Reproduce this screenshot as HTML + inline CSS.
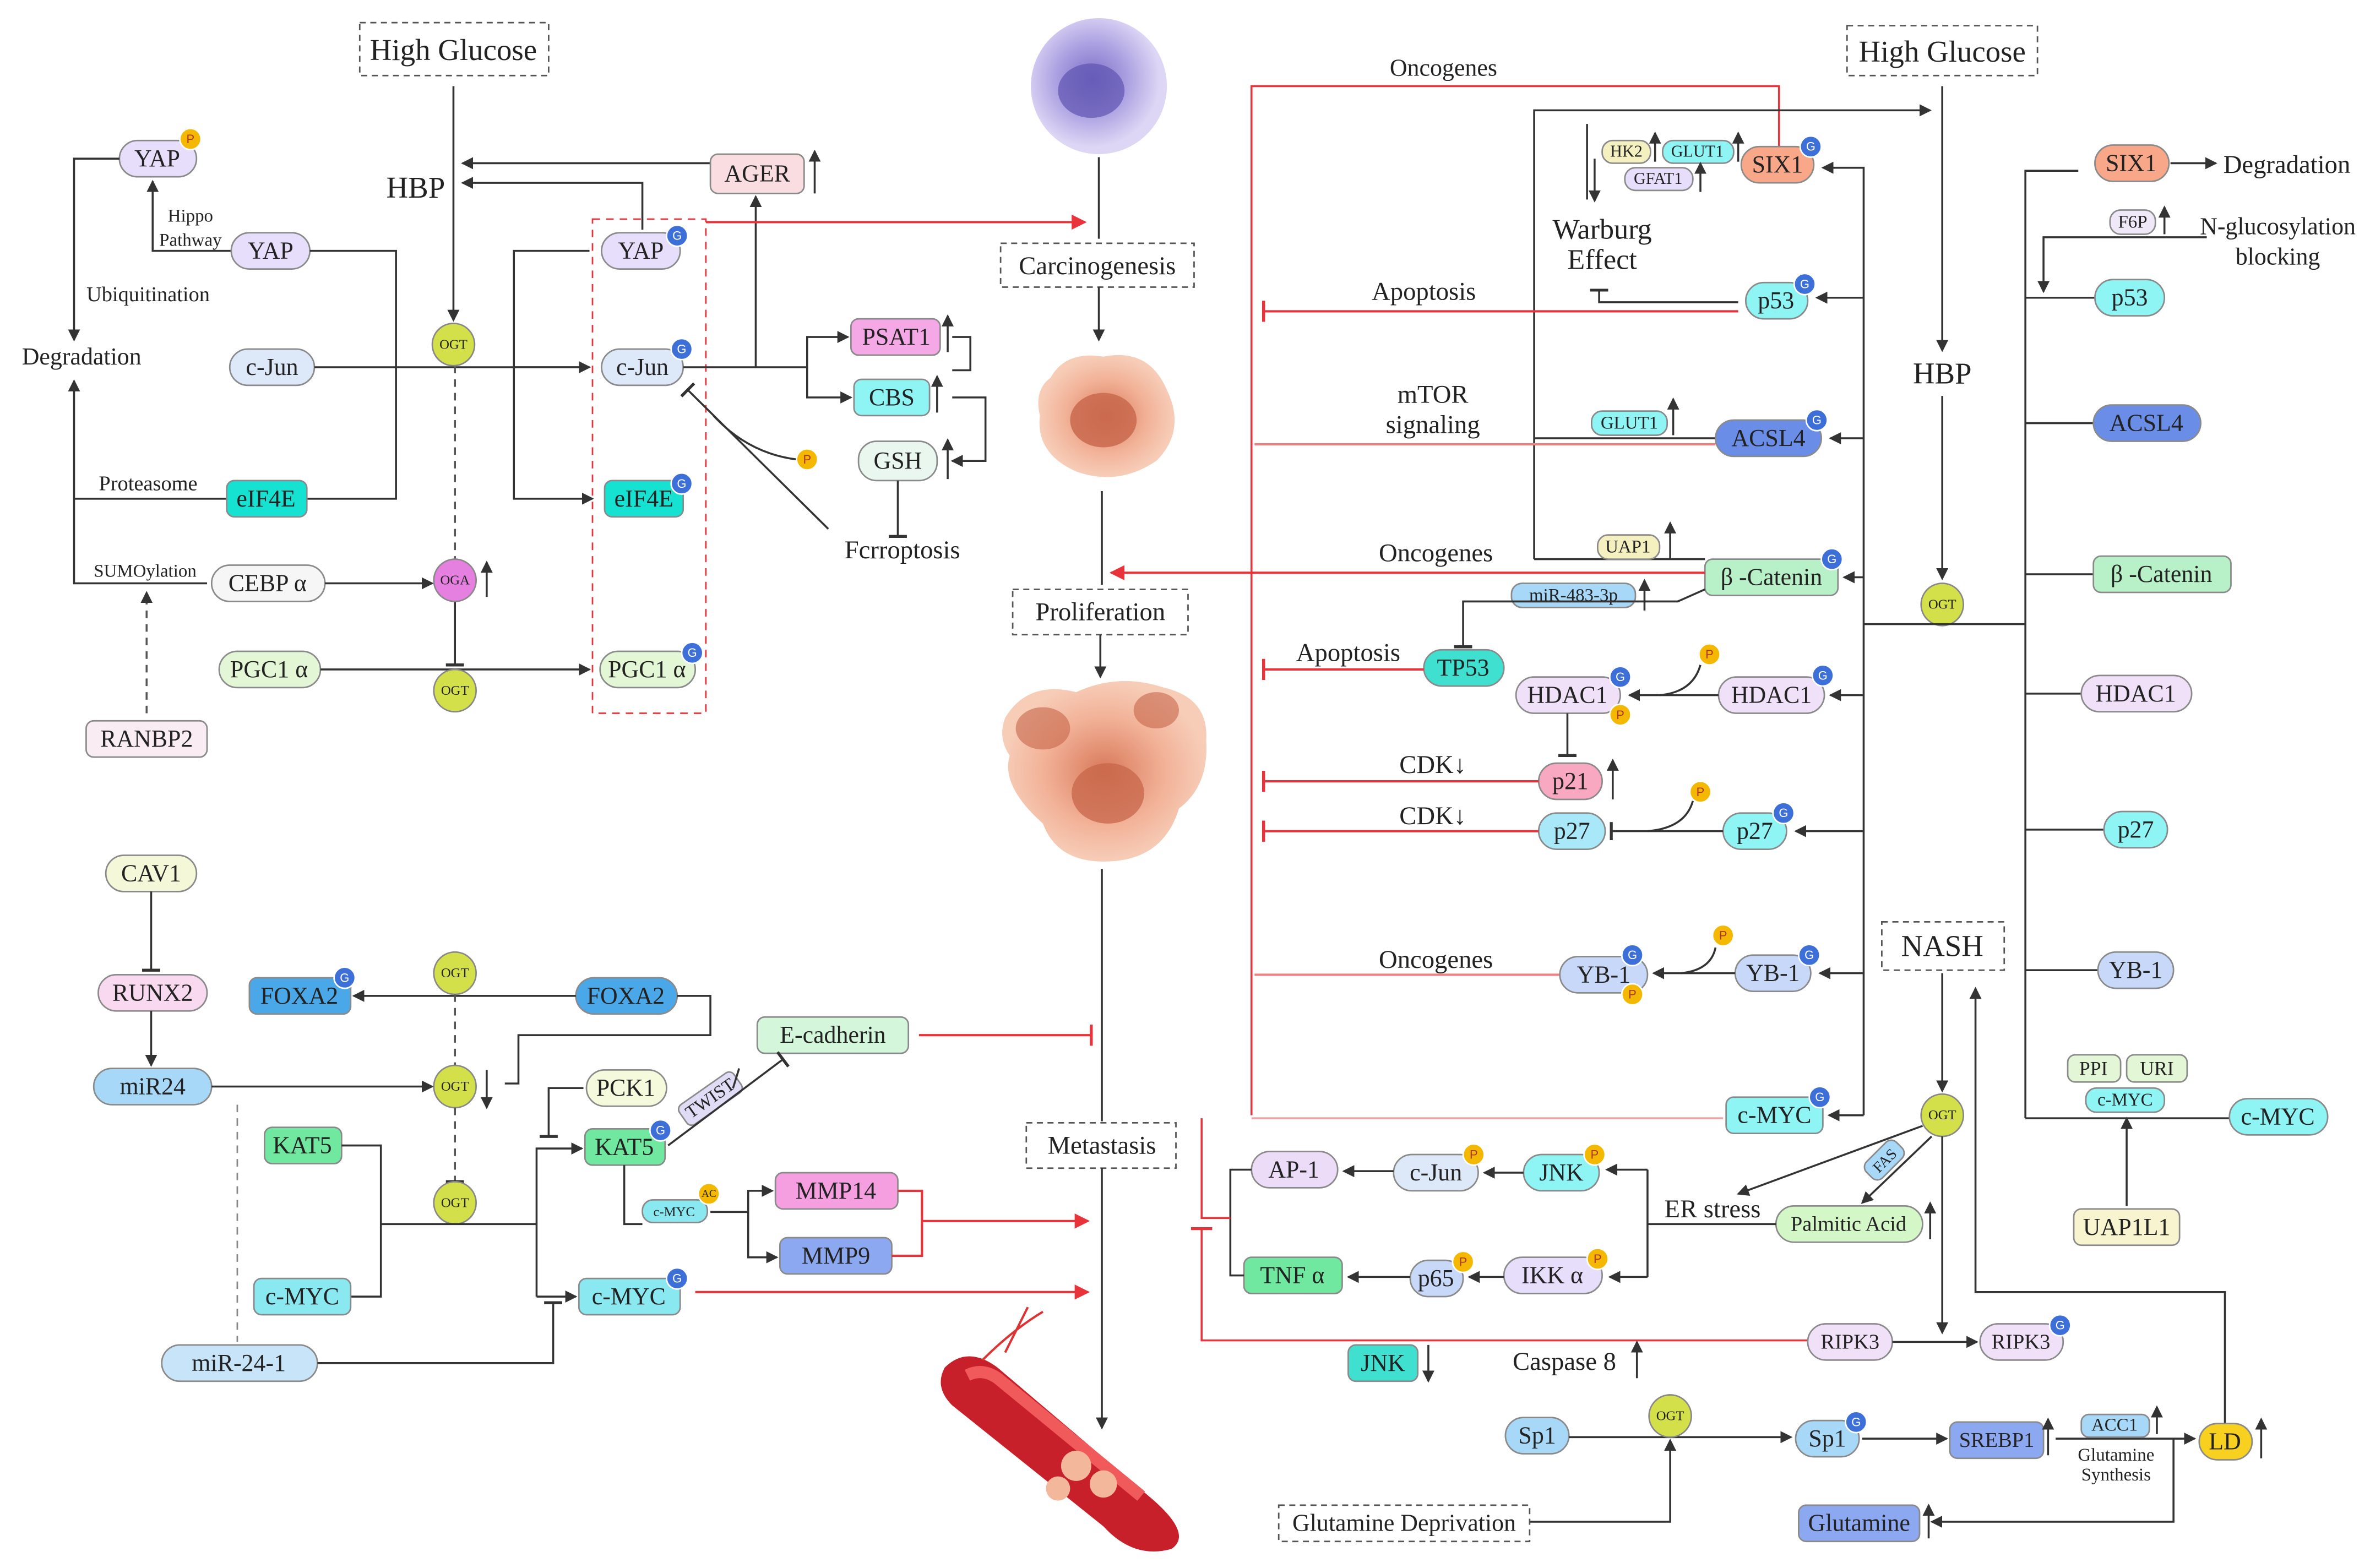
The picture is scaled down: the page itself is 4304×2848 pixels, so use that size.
<!DOCTYPE html>
<html><head><meta charset="utf-8"><style>
html,body{margin:0;padding:0;background:#fff;}
svg{display:block}
text{font-family:"Liberation Serif",serif;font-size:16px;text-anchor:middle;dominant-baseline:central;fill:#222}
.s{font-size:12px}.xs{font-size:9px}.b{font-size:20px}
.n{stroke:#8a8a8a;stroke-width:1}
.l{stroke:#333;stroke-width:1.3;fill:none}
.r{stroke:#e8333a;stroke-width:1.5;fill:none}
.d{stroke:#555;stroke-width:1.3;fill:none;stroke-dasharray:5,4}
.db{fill:#fff;stroke:#555;stroke-dasharray:4,3}
.G{fill:#3d6fd8;stroke:#fff}.P{fill:#f5b800;stroke:#fff}
.gt{font-size:8px;fill:#fff;font-family:"Liberation Sans",sans-serif}
.pt{font-size:8px;fill:#a33;font-family:"Liberation Sans",sans-serif}
</style></head><body>
<svg width="4304" height="2848" viewBox="0 0 1568 1037.6" preserveAspectRatio="none" xmlns="http://www.w3.org/2000/svg">
<defs>
<marker id="a" markerWidth="8" markerHeight="8" refX="7" refY="4" orient="auto" markerUnits="userSpaceOnUse"><path d="M0,0L8,4L0,8z" fill="#333"/></marker>
<marker id="ar" markerWidth="10" markerHeight="10" refX="9" refY="5" orient="auto" markerUnits="userSpaceOnUse"><path d="M0,0L10,5L0,10z" fill="#e8333a"/></marker>
<marker id="t" markerWidth="2" markerHeight="12" refX="1" refY="6" orient="auto" markerUnits="userSpaceOnUse"><rect width="2" height="12" fill="#333"/></marker>
<marker id="tr" markerWidth="2" markerHeight="14" refX="1" refY="7" orient="auto" markerUnits="userSpaceOnUse"><rect width="2" height="14" fill="#e8333a"/></marker>
<radialGradient id="cell" cx="45%" cy="45%"><stop offset="0" stop-color="#7d6fc8"/><stop offset="0.5" stop-color="#a99ee0"/><stop offset="1" stop-color="#ddd6f5"/></radialGradient>
<radialGradient id="ca" cx="50%" cy="50%"><stop offset="0" stop-color="#d9795a"/><stop offset="0.6" stop-color="#f2b298"/><stop offset="1" stop-color="#f7cdb8"/></radialGradient>
</defs>

<!-- ========== LEFT TOP ========== -->
<rect class="db" x="238" y="15" width="125" height="35"/><text x="300" y="33" class="b">High Glucose</text>
<line class="l" x1="300" y1="57" x2="300" y2="212" marker-end="url(#a)"/>
<text x="275" y="124" class="b">HBP</text>
<line class="l" x1="470" y1="108" x2="306" y2="108" marker-end="url(#a)"/>
<polyline class="l" points="425,152 425,121 306,121" marker-end="url(#a)"/>
<rect class="n" x="470" y="102" width="62" height="26" rx="5" fill="#f9dde0"/><text x="501" y="115">AGER</text>
<line class="l" x1="539" y1="128" x2="539" y2="100" marker-end="url(#a)"/>
<line class="l" x1="500" y1="243" x2="500" y2="130" marker-end="url(#a)"/>

<rect class="n" x="79" y="93" width="51" height="24" rx="12" fill="#e6defa"/><text x="104" y="105">YAP</text>
<circle class="P" cx="126" cy="92" r="7"/><text x="126" y="92" class="pt">P</text>
<polyline class="l" points="79,105 49,105 49,225" marker-end="url(#a)"/>
<polyline class="l" points="153,166 101,166 101,120" marker-end="url(#a)"/>
<text x="126" y="143" class="s">Hippo</text><text x="126" y="159" class="s">Pathway</text>
<text x="98" y="195" class="s" style="font-size:14px">Ubiquitination</text>
<text x="54" y="236" style="font-size:16px">Degradation</text>
<polyline class="l" points="137,386 49,386 49,252" marker-end="url(#a)"/>
<line class="l" x1="49" y1="330" x2="150" y2="330"/>
<text x="98" y="320" class="s" style="font-size:14px">Proteasome</text>
<text x="96" y="378" class="s">SUMOylation</text>
<line class="d" x1="97" y1="472" x2="97" y2="392" marker-end="url(#a)"/>
<rect class="n" x="153" y="154" width="52" height="24" rx="12" fill="#e6defa"/><text x="179" y="166">YAP</text>
<polyline class="l" points="205,166 262,166 262,330 203,330"/>
<rect class="n" x="152" y="231" width="56" height="24" rx="12" fill="#dde8f8"/><text x="180" y="243">c-Jun</text>
<rect class="n" x="150" y="318" width="53" height="24" rx="5" fill="#16e2d2"/><text x="176" y="330">eIF4E</text>
<rect class="n" x="140" y="374" width="75" height="24" rx="12" fill="#f6f6f6"/><text x="177" y="386">CEBP α</text>
<rect class="n" x="145" y="431" width="67" height="24" rx="12" fill="#e3f7d6"/><text x="178" y="443">PGC1 α</text>
<rect class="n" x="57" y="477" width="80" height="24" rx="5" fill="#f9ecf3"/><text x="97" y="489">RANBP2</text>

<line class="l" x1="208" y1="243" x2="390" y2="243" marker-end="url(#a)"/>
<line class="l" x1="215" y1="386" x2="286" y2="386" marker-end="url(#a)"/>
<line class="l" x1="212" y1="443" x2="390" y2="443" marker-end="url(#a)"/>
<polyline class="l" points="390,166 340,166 340,330 392,330" marker-end="url(#a)"/>
<line class="l" x1="340" y1="243" x2="390" y2="243"/>
<line class="d" x1="301" y1="242" x2="301" y2="370"/>
<line class="l" x1="301" y1="398" x2="301" y2="440" marker-end="url(#t)"/>
<line class="l" x1="322" y1="395" x2="322" y2="372" marker-end="url(#a)"/>
<circle cx="300" cy="228" r="14" fill="#d4e04a" stroke="#888"/><text x="300" y="228" class="xs">OGT</text>
<circle cx="301" cy="384" r="14" fill="#e57fe0" stroke="#888"/><text x="301" y="384" class="xs">OGA</text>
<circle cx="301" cy="457" r="14" fill="#d4e04a" stroke="#888"/><text x="301" y="457" class="xs">OGT</text>

<rect x="392" y="145" width="75" height="327" fill="none" stroke="#e8333a" stroke-dasharray="5,4"/>
<rect class="n" x="398" y="154" width="52" height="24" rx="12" fill="#e6defa"/><text x="424" y="166">YAP</text>
<circle class="G" cx="448" cy="156" r="7"/><text x="448" y="156" class="gt">G</text>
<rect class="n" x="398" y="231" width="54" height="24" rx="12" fill="#dde8f8"/><text x="425" y="243">c-Jun</text>
<circle class="G" cx="451" cy="231" r="7"/><text x="451" y="231" class="gt">G</text>
<rect class="n" x="400" y="318" width="52" height="24" rx="5" fill="#16e2d2"/><text x="426" y="330">eIF4E</text>
<circle class="G" cx="451" cy="320" r="7"/><text x="451" y="320" class="gt">G</text>
<rect class="n" x="397" y="431" width="63" height="24" rx="12" fill="#e3f7d6"/><text x="428" y="443">PGC1 α</text>
<circle class="G" cx="458" cy="432" r="7"/><text x="458" y="432" class="gt">G</text>
<line class="r" x1="467" y1="147" x2="718" y2="147" marker-end="url(#ar)"/>

<polyline class="l" points="452,243 534,243 534,223 561,223" marker-end="url(#a)"/>
<polyline class="l" points="534,243 534,263 563,263" marker-end="url(#a)"/>
<rect class="n" x="563" y="211" width="59" height="24" rx="5" fill="#f5a8e6"/><text x="593" y="223">PSAT1</text>
<rect class="n" x="565" y="251" width="50" height="24" rx="5" fill="#8ef4f4"/><text x="590" y="263">CBS</text>
<rect class="n" x="568" y="292" width="52" height="26" rx="12" fill="#e9f7ef"/><text x="594" y="305">GSH</text>
<line class="l" x1="627" y1="233" x2="627" y2="209" marker-end="url(#a)"/>
<line class="l" x1="620" y1="273" x2="620" y2="249" marker-end="url(#a)"/>
<line class="l" x1="627" y1="317" x2="627" y2="291" marker-end="url(#a)"/>
<polyline class="l" points="630,223 642,223 642,245 630,245" />
<polyline class="l" points="630,263 652,263 652,305 630,305" marker-end="url(#a)"/>
<line class="l" x1="594" y1="318" x2="594" y2="355" marker-end="url(#t)"/>
<line class="l" x1="548" y1="350" x2="455" y2="258" marker-end="url(#t)"/>
<path class="l" d="M472,275 Q495,300 527,304"/>
<circle class="P" cx="534" cy="304" r="7"/><text x="534" y="304" class="pt">P</text>
<text x="597" y="364" style="font-size:17px">Fcrroptosis</text>

<!-- ========== CENTER ========== -->
<circle cx="727" cy="57" r="45" fill="url(#cell)"/>
<ellipse cx="722" cy="60" rx="22" ry="18" fill="#5e54b0" opacity="0.7"/>
<line class="l" x1="727" y1="104" x2="727" y2="158"/>
<rect class="db" x="662" y="161" width="128" height="29"/><text x="726" y="176" style="font-size:17px">Carcinogenesis</text>
<line class="l" x1="727" y1="190" x2="727" y2="225" marker-end="url(#a)"/>
<path d="M695,250 Q705,232 730,236 Q760,230 772,258 Q785,285 765,305 Q740,322 712,312 Q685,300 688,275 Q684,258 695,250z" fill="url(#ca)"/>
<ellipse cx="730" cy="278" rx="22" ry="18" fill="#c7654a" opacity="0.8"/>
<line class="l" x1="729" y1="325" x2="729" y2="387"/>
<rect class="db" x="670" y="390" width="116" height="30"/><text x="728" y="405" style="font-size:17px">Proliferation</text>
<line class="l" x1="728" y1="420" x2="728" y2="448" marker-end="url(#a)"/>
<path d="M665,475 Q680,450 712,458 Q740,445 770,455 Q800,462 798,490 Q800,520 780,535 Q770,568 735,570 Q700,572 690,545 Q662,520 668,500 Q660,488 665,475z" fill="url(#ca)"/>
<ellipse cx="690" cy="482" rx="18" ry="14" fill="#c7654a" opacity="0.6"/>
<ellipse cx="765" cy="470" rx="15" ry="12" fill="#c7654a" opacity="0.6"/>
<ellipse cx="733" cy="525" rx="24" ry="20" fill="#c7654a" opacity="0.75"/>
<line class="l" x1="729" y1="575" x2="729" y2="742"/>
<rect class="db" x="679" y="743" width="99" height="30"/><text x="729" y="758" style="font-size:17px">Metastasis</text>
<line class="l" x1="729" y1="773" x2="729" y2="945" marker-end="url(#a)"/>
<path d="M625,905 Q640,890 660,905 L760,990 Q790,1015 775,1025 Q750,1032 730,1010 L630,930 Q618,918 625,905z" fill="#c8202a"/>
<path d="M640,910 Q650,905 660,912 L755,990" stroke="#f05a5a" stroke-width="8" fill="none"/>
<circle cx="712" cy="970" r="10" fill="#f3b79c"/><circle cx="730" cy="982" r="9" fill="#f3b79c"/><circle cx="700" cy="985" r="8" fill="#f3b79c"/>
<path d="M650,900 Q670,880 690,868 M665,895 Q675,875 680,865" stroke="#d33" stroke-width="1.5" fill="none"/>

<!-- ========== LEFT BOTTOM ========== -->
<rect class="n" x="70" y="566" width="60" height="24" rx="12" fill="#f5f8d8"/><text x="100" y="578">CAV1</text>
<line class="l" x1="100" y1="590" x2="100" y2="642" marker-end="url(#t)"/>
<rect class="n" x="65" y="645" width="72" height="24" rx="12" fill="#f9d9ef"/><text x="101" y="657">RUNX2</text>
<line class="l" x1="100" y1="669" x2="100" y2="705" marker-end="url(#a)"/>
<rect class="n" x="62" y="707" width="78" height="24" rx="12" fill="#a8d8f8"/><text x="101" y="719">miR24</text>
<line class="l" x1="140" y1="719" x2="286" y2="719" marker-end="url(#a)"/>
<line x1="157" y1="731" x2="157" y2="888" stroke="#888" stroke-dasharray="5,4"/>
<rect class="n" x="165" y="647" width="67" height="24" rx="5" fill="#4aa8e8"/><text x="198" y="659">FOXA2</text>
<circle class="G" cx="228" cy="647" r="7"/><text x="228" y="647" class="gt">G</text>
<rect class="n" x="381" y="647" width="67" height="24" rx="12" fill="#4aa8e8"/><text x="414" y="659">FOXA2</text>
<line class="l" x1="381" y1="659" x2="234" y2="659" marker-end="url(#a)"/>
<polyline class="l" points="448,659 470,659 470,685 343,685 343,717 334,717"/>
<line class="l" x1="322" y1="708" x2="322" y2="733" marker-end="url(#a)"/>
<circle cx="301" cy="644" r="14" fill="#d4e04a" stroke="#888"/><text x="301" y="644" class="xs">OGT</text>
<line class="d" x1="301" y1="658" x2="301" y2="705"/>
<circle cx="301" cy="719" r="14" fill="#d4e04a" stroke="#888"/><text x="301" y="719" class="xs">OGT</text>
<line class="d" x1="301" y1="733" x2="301" y2="782" marker-end="url(#t)"/>
<circle cx="301" cy="796" r="14" fill="#d4e04a" stroke="#888"/><text x="301" y="796" class="xs">OGT</text>
<rect class="n" x="501" y="673" width="100" height="24" rx="5" fill="#d4f7dc"/><text x="551" y="685">E-cadherin</text>
<line class="r" x1="608" y1="685" x2="722" y2="685" marker-end="url(#tr)"/>
<rect class="n" x="388" y="708" width="53" height="24" rx="12" fill="#f5fadc"/><text x="414" y="720">PCK1</text>
<polyline class="l" points="386,720 363,720 363,752" marker-end="url(#t)"/>
<rect class="n" x="387" y="747" width="53" height="24" rx="5" fill="#70e8a0"/><text x="413" y="759">KAT5</text>
<circle class="G" cx="437" cy="748" r="7"/><text x="437" y="748" class="gt">G</text>
<g transform="rotate(-35 470 727)"><rect class="n" x="448" y="719" width="44" height="16" rx="4" fill="#e0dcf5"/><text x="470" y="727" class="s">TWIST</text></g>
<line class="l" x1="442" y1="758" x2="518" y2="701" marker-end="url(#t)"/>
<line class="l" x1="485" y1="720" x2="489" y2="707"/>
<rect class="n" x="175" y="746" width="51" height="24" rx="5" fill="#70e8a0"/><text x="200" y="758">KAT5</text>
<polyline class="l" points="226,758 252,758 252,858 232,858"/>
<line class="l" x1="252" y1="810" x2="355" y2="810"/>
<polyline class="l" points="355,858 355,760 385,760" marker-end="url(#a)"/>
<line class="l" x1="355" y1="858" x2="381" y2="858" marker-end="url(#a)"/>
<rect class="n" x="168" y="846" width="64" height="24" rx="5" fill="#8ae8f0"/><text x="200" y="858">c-MYC</text>
<rect class="n" x="107" y="890" width="103" height="24" rx="12" fill="#c8e4f8"/><text x="158" y="902">miR-24-1</text>
<polyline class="l" points="210,902 366,902 366,862" marker-end="url(#t)"/>
<rect class="n" x="383" y="846" width="67" height="24" rx="5" fill="#8ae8f0"/><text x="416" y="858">c-MYC</text>
<circle class="G" cx="448" cy="846" r="7"/><text x="448" y="846" class="gt">G</text>
<line class="r" x1="460" y1="855" x2="720" y2="855" marker-end="url(#ar)"/>
<polyline class="l" points="413,771 413,810 425,810"/>
<rect class="n" x="425" y="794" width="43" height="15" rx="7" fill="#8ae8f0"/><text x="446" y="802" style="font-size:9px">c-MYC</text>
<circle cx="469" cy="790" r="7" fill="#f5b800" stroke="#fff"/><text x="469" y="790" style="font-size:7px">AC</text>
<polyline class="l" points="470,802 495,802 495,788 511,788" marker-end="url(#a)"/>
<polyline class="l" points="495,802 495,832 514,832" marker-end="url(#a)"/>
<rect class="n" x="513" y="776" width="81" height="24" rx="5" fill="#f59ee0"/><text x="553" y="788">MMP14</text>
<rect class="n" x="516" y="819" width="74" height="24" rx="5" fill="#8ca8f0"/><text x="553" y="831">MMP9</text>
<polyline class="r" points="594,788 610,788 610,831 590,831"/>
<line class="r" x1="610" y1="808" x2="720" y2="808" marker-end="url(#ar)"/>

<!-- ========== RIGHT ========== -->
<polyline class="r" points="828,738 828,57 1177,57 1177,97" style="stroke-width:1.3"/>
<text x="955" y="45">Oncogenes</text>
<line x1="828" y1="740" x2="1140" y2="740" stroke="#f2a0a0" stroke-width="1.3"/>
<rect class="db" x="1222" y="17" width="126" height="33"/><text x="1285" y="34" class="b">High Glucose</text>
<line class="l" x1="1285" y1="57" x2="1285" y2="232" marker-end="url(#a)"/>
<text x="1285" y="247" class="b">HBP</text>
<line class="l" x1="1285" y1="262" x2="1285" y2="383" marker-end="url(#a)"/>
<circle cx="1285" cy="400" r="14" fill="#d4e04a" stroke="#888"/><text x="1285" y="400" class="xs">OGT</text>
<line class="l" x1="1233" y1="413" x2="1340" y2="413"/>
<polyline class="l" points="1015,370 1015,73 1277,73" marker-end="url(#a)"/>
<line class="l" x1="1015" y1="290" x2="1135" y2="290"/>
<line class="l" x1="1015" y1="370" x2="1128" y2="370"/>
<polyline class="l" points="1050,82 1050,132" />
<line class="l" x1="1055" y1="105" x2="1055" y2="133" marker-end="url(#a)"/>
<text x="1060" y="152" style="font-size:19px">Warburg</text><text x="1060" y="172" style="font-size:19px">Effect</text>
<rect class="n" x="1060" y="93" width="32" height="15" rx="7" fill="#f5f0c0"/><text x="1076" y="100" style="font-size:11px">HK2</text>
<line class="l" x1="1095" y1="107" x2="1095" y2="88" marker-end="url(#a)"/>
<rect class="n" x="1100" y="93" width="47" height="15" rx="7" fill="#8ef4f4"/><text x="1123" y="100" style="font-size:11px">GLUT1</text>
<line class="l" x1="1150" y1="107" x2="1150" y2="88" marker-end="url(#a)"/>
<rect class="n" x="1075" y="111" width="45" height="15" rx="7" fill="#e6defa"/><text x="1097" y="118" style="font-size:11px">GFAT1</text>
<line class="l" x1="1125" y1="127" x2="1125" y2="108" marker-end="url(#a)"/>
<rect class="n" x="1152" y="97" width="48" height="24" rx="12" fill="#f8a888"/><text x="1176" y="109">SIX1</text>
<circle class="G" cx="1198" cy="97" r="7"/><text x="1198" y="97" class="gt">G</text>
<rect class="n" x="1155" y="187" width="41" height="24" rx="12" fill="#8ef4f4"/><text x="1175" y="199">p53</text>
<circle class="G" cx="1194" cy="188" r="7"/><text x="1194" y="188" class="gt">G</text>
<polyline class="l" points="1150,200 1058,200 1058,192" marker-end="url(#t)"/>
<line class="r" x1="1150" y1="206" x2="836" y2="206" marker-end="url(#tr)"/>
<text x="942" y="193" style="font-size:17px">Apoptosis</text>
<text x="948" y="261" style="font-size:17px">mTOR</text><text x="948" y="281" style="font-size:17px">signaling</text>
<line class="r" x1="1135" y1="294" x2="830" y2="294" style="stroke:#f08080"/>
<rect class="n" x="1053" y="272" width="50" height="16" rx="7" fill="#8ef4f4"/><text x="1078" y="280" style="font-size:12px">GLUT1</text>
<line class="l" x1="1107" y1="288" x2="1107" y2="264" marker-end="url(#a)"/>
<rect class="n" x="1135" y="278" width="70" height="24" rx="12" fill="#6a8ee8"/><text x="1170" y="290">ACSL4</text>
<circle class="G" cx="1202" cy="278" r="7"/><text x="1202" y="278" class="gt">G</text>
<text x="950" y="366" style="font-size:17px">Oncogenes</text>
<rect class="n" x="1057" y="354" width="41" height="16" rx="7" fill="#f5f0c0"/><text x="1077" y="362" style="font-size:12px">UAP1</text>
<line class="l" x1="1105" y1="370" x2="1105" y2="346" marker-end="url(#a)"/>
<rect class="n" x="1128" y="370" width="88" height="24" rx="5" fill="#b8f0c8"/><text x="1172" y="382">β -Catenin</text>
<circle class="G" cx="1212" cy="370" r="7"/><text x="1212" y="370" class="gt">G</text>
<line class="r" x1="1128" y1="379" x2="735" y2="379" marker-end="url(#ar)"/>
<rect class="n" x="1000" y="386" width="82" height="16" rx="7" fill="#a8d8f8"/><text x="1041" y="394" style="font-size:12px">miR-483-3p</text>
<line class="l" x1="1088" y1="404" x2="1088" y2="384" marker-end="url(#a)"/>
<polyline class="l" points="1128,390 1110,398 968,398 968,428" marker-end="url(#t)"/>
<rect class="n" x="942" y="430" width="53" height="24" rx="12" fill="#40e0d0"/><text x="968" y="442">TP53</text>
<text x="892" y="432" style="font-size:17px">Apoptosis</text>
<line class="r" x1="942" y1="443" x2="836" y2="443" marker-end="url(#tr)"/>
<rect class="n" x="1003" y="448" width="69" height="24" rx="12" fill="#f0e0f8"/><text x="1037" y="460">HDAC1</text>
<circle class="G" cx="1072" cy="448" r="7"/><text x="1072" y="448" class="gt">G</text>
<circle class="P" cx="1072" cy="473" r="7"/><text x="1072" y="473" class="pt">P</text>
<rect class="n" x="1137" y="448" width="70" height="24" rx="12" fill="#f0e0f8"/><text x="1172" y="460">HDAC1</text>
<circle class="G" cx="1206" cy="447" r="7"/><text x="1206" y="447" class="gt">G</text>
<line class="l" x1="1137" y1="460" x2="1078" y2="460" marker-end="url(#a)"/>
<path class="l" d="M1125,440 Q1120,458 1098,460"/>
<circle class="P" cx="1131" cy="433" r="7"/><text x="1131" y="433" class="pt">P</text>
<line class="l" x1="1037" y1="472" x2="1037" y2="500" marker-end="url(#t)"/>
<rect class="n" x="1018" y="505" width="42" height="24" rx="12" fill="#f8a8c0"/><text x="1039" y="517">p21</text>
<line class="l" x1="1067" y1="529" x2="1067" y2="503" marker-end="url(#a)"/>
<text x="948" y="506" style="font-size:17px">CDK↓</text>
<line class="r" x1="1018" y1="517" x2="836" y2="517" marker-end="url(#tr)"/>
<rect class="n" x="1018" y="538" width="44" height="24" rx="12" fill="#a8e8f8"/><text x="1040" y="550">p27</text>
<rect class="n" x="1140" y="538" width="42" height="24" rx="12" fill="#8ef4f4"/><text x="1161" y="550">p27</text>
<circle class="G" cx="1180" cy="538" r="7"/><text x="1180" y="538" class="gt">G</text>
<line class="l" x1="1140" y1="550" x2="1066" y2="550" marker-end="url(#t)"/>
<path class="l" d="M1120,530 Q1115,548 1090,550"/>
<circle class="P" cx="1125" cy="524" r="7"/><text x="1125" y="524" class="pt">P</text>
<text x="948" y="540" style="font-size:17px">CDK↓</text>
<line class="r" x1="1018" y1="550" x2="836" y2="550" marker-end="url(#tr)"/>
<text x="950" y="635" style="font-size:17px">Oncogenes</text>
<line class="r" x1="1032" y1="645" x2="830" y2="645" style="stroke:#f08080"/>
<rect class="n" x="1032" y="633" width="58" height="24" rx="12" fill="#c8d8f8"/><text x="1061" y="645">YB-1</text>
<circle class="G" cx="1080" cy="632" r="7"/><text x="1080" y="632" class="gt">G</text>
<circle class="P" cx="1080" cy="658" r="7"/><text x="1080" y="658" class="pt">P</text>
<rect class="n" x="1148" y="632" width="50" height="24" rx="12" fill="#c8d8f8"/><text x="1173" y="644">YB-1</text>
<circle class="G" cx="1197" cy="632" r="7"/><text x="1197" y="632" class="gt">G</text>
<line class="l" x1="1148" y1="644" x2="1094" y2="644" marker-end="url(#a)"/>
<path class="l" d="M1135,627 Q1132,642 1112,644"/>
<circle class="P" cx="1140" cy="619" r="7"/><text x="1140" y="619" class="pt">P</text>
<rect class="n" x="1142" y="726" width="64" height="24" rx="5" fill="#8ef4f4"/><text x="1174" y="738">c-MYC</text>
<circle class="G" cx="1204" cy="726" r="7"/><text x="1204" y="726" class="gt">G</text>

<!-- right trunk 1233 -->
<polyline class="l" points="1233,738 1233,111 1206,111" marker-end="url(#a)"/>
<line class="l" x1="1233" y1="197" x2="1202" y2="197" marker-end="url(#a)"/>
<line class="l" x1="1233" y1="290" x2="1211" y2="290" marker-end="url(#a)"/>
<line class="l" x1="1233" y1="382" x2="1220" y2="382" marker-end="url(#a)"/>
<line class="l" x1="1233" y1="460" x2="1211" y2="460" marker-end="url(#a)"/>
<line class="l" x1="1233" y1="550" x2="1188" y2="550" marker-end="url(#a)"/>
<line class="l" x1="1233" y1="644" x2="1204" y2="644" marker-end="url(#a)"/>
<line class="l" x1="1233" y1="738" x2="1210" y2="738" marker-end="url(#a)"/>

<!-- right column -->
<polyline class="l" points="1340,740 1340,113 1375,113"/>
<rect class="n" x="1386" y="96" width="49" height="24" rx="12" fill="#f8a888"/><text x="1410" y="108">SIX1</text>
<line class="l" x1="1436" y1="108" x2="1466" y2="108" marker-end="url(#a)"/>
<text x="1513" y="109" style="font-size:17px">Degradation</text>
<rect class="n" x="1396" y="139" width="30" height="16" rx="7" fill="#f0e8f8"/><text x="1411" y="147" style="font-size:12px">F6P</text>
<line class="l" x1="1432" y1="155" x2="1432" y2="137" marker-end="url(#a)"/>
<polyline class="l" points="1460,157 1352,157 1352,193" marker-end="url(#a)"/>
<text x="1507" y="150">N-glucosylation</text><text x="1507" y="170">blocking</text>
<line class="l" x1="1340" y1="197" x2="1386" y2="197"/>
<rect class="n" x="1386" y="185" width="46" height="24" rx="12" fill="#8ef4f4"/><text x="1409" y="197">p53</text>
<line class="l" x1="1340" y1="280" x2="1385" y2="280"/>
<rect class="n" x="1385" y="268" width="71" height="24" rx="12" fill="#6a8ee8"/><text x="1420" y="280">ACSL4</text>
<line class="l" x1="1340" y1="380" x2="1385" y2="380"/>
<rect class="n" x="1385" y="368" width="91" height="24" rx="5" fill="#b8f0c8"/><text x="1430" y="380">β -Catenin</text>
<line class="l" x1="1340" y1="459" x2="1377" y2="459"/>
<rect class="n" x="1377" y="447" width="73" height="24" rx="12" fill="#f0e0f8"/><text x="1413" y="459">HDAC1</text>
<line class="l" x1="1340" y1="549" x2="1392" y2="549"/>
<rect class="n" x="1392" y="537" width="42" height="24" rx="12" fill="#8ef4f4"/><text x="1413" y="549">p27</text>
<line class="l" x1="1340" y1="642" x2="1388" y2="642"/>
<rect class="n" x="1388" y="630" width="50" height="24" rx="12" fill="#c8d8f8"/><text x="1413" y="642">YB-1</text>
<line class="l" x1="1340" y1="740" x2="1475" y2="740"/>
<rect class="n" x="1368" y="698" width="35" height="18" rx="5" fill="#e3f7d6"/><text x="1385" y="707" style="font-size:13px">PPI</text>
<rect class="n" x="1407" y="698" width="40" height="18" rx="5" fill="#e3f7d6"/><text x="1427" y="707" style="font-size:13px">URI</text>
<rect class="n" x="1380" y="720" width="52" height="16" rx="7" fill="#8ef4f4"/><text x="1406" y="728" style="font-size:12px">c-MYC</text>
<rect class="n" x="1475" y="727" width="65" height="24" rx="12" fill="#8ef4f4"/><text x="1507" y="739">c-MYC</text>
<line class="l" x1="1407" y1="798" x2="1407" y2="740" marker-end="url(#a)"/>
<rect class="n" x="1372" y="800" width="70" height="24" rx="5" fill="#f8f4d0"/><text x="1407" y="812">UAP1L1</text>

<!-- NASH -->
<rect class="db" x="1245" y="610" width="81" height="32"/><text x="1285" y="626" class="b">NASH</text>
<line class="l" x1="1285" y1="644" x2="1285" y2="722" marker-end="url(#a)"/>
<circle cx="1285" cy="738" r="14" fill="#d4e04a" stroke="#888"/><text x="1285" y="738" class="xs">OGT</text>
<line class="l" x1="1272" y1="745" x2="1150" y2="790" marker-end="url(#a)"/>
<line class="l" x1="1278" y1="752" x2="1232" y2="796" marker-end="url(#a)"/>
<g transform="rotate(-45 1247 768)"><rect class="n" x="1233" y="760" width="28" height="15" rx="5" fill="#a8d8f8"/><text x="1247" y="768" style="font-size:10px">FAS</text></g>
<line class="l" x1="1285" y1="752" x2="1285" y2="882" marker-end="url(#a)"/>
<rect class="n" x="1175" y="798" width="97" height="24" rx="12" fill="#d4f7c8"/><text x="1223" y="810" style="font-size:14px">Palmitic Acid</text>
<line class="l" x1="1277" y1="820" x2="1277" y2="796" marker-end="url(#a)"/>
<text x="1133" y="800" style="font-size:17px">ER stress</text>
<line class="l" x1="1175" y1="810" x2="1090" y2="810"/>
<polyline class="l" points="1090,774 1090,845"/>
<line class="l" x1="1090" y1="774" x2="1063" y2="774" marker-end="url(#a)"/>
<line class="l" x1="1090" y1="845" x2="1065" y2="845" marker-end="url(#a)"/>
<rect class="n" x="828" y="762" width="57" height="24" rx="12" fill="#ecdcf8"/><text x="856" y="774">AP-1</text>
<rect class="n" x="922" y="764" width="56" height="24" rx="12" fill="#dde8f8"/><text x="950" y="776">c-Jun</text>
<circle class="P" cx="975" cy="764" r="7"/><text x="975" y="764" class="pt">P</text>
<rect class="n" x="1008" y="764" width="50" height="24" rx="12" fill="#8ef4f4"/><text x="1033" y="776">JNK</text>
<circle class="P" cx="1055" cy="764" r="7"/><text x="1055" y="764" class="pt">P</text>
<line class="l" x1="1008" y1="776" x2="982" y2="776" marker-end="url(#a)"/>
<line class="l" x1="922" y1="775" x2="889" y2="775" marker-end="url(#a)"/>
<rect class="n" x="823" y="832" width="65" height="24" rx="5" fill="#70e8a0"/><text x="855" y="844">TNF α</text>
<rect class="n" x="933" y="834" width="35" height="24" rx="12" fill="#c8d8f8"/><text x="950" y="846">p65</text>
<circle class="P" cx="968" cy="835" r="7"/><text x="968" y="835" class="pt">P</text>
<rect class="n" x="995" y="832" width="65" height="24" rx="12" fill="#e6defa"/><text x="1027" y="844">IKK α</text>
<circle class="P" cx="1057" cy="833" r="7"/><text x="1057" y="833" class="pt">P</text>
<line class="l" x1="995" y1="845" x2="972" y2="845" marker-end="url(#a)"/>
<line class="l" x1="933" y1="845" x2="892" y2="845" marker-end="url(#a)"/>
<polyline class="l" points="828,774 814,774 814,844 823,844"/>
<polyline class="r" points="814,806 795,806 795,740" style="stroke-width:1.3"/>
<polyline class="r" points="1196,887 795,887 795,813" marker-end="url(#tr)" style="stroke-width:1.3"/>
<rect class="n" x="1196" y="876" width="56" height="24" rx="12" fill="#f0e0f8"/><text x="1224" y="888" style="font-size:14px">RIPK3</text>
<line class="l" x1="1252" y1="888" x2="1308" y2="888" marker-end="url(#a)"/>
<rect class="n" x="1310" y="876" width="55" height="24" rx="12" fill="#f0e0f8"/><text x="1337" y="888" style="font-size:14px">RIPK3</text>
<circle class="G" cx="1363" cy="877" r="7"/><text x="1363" y="877" class="gt">G</text>
<rect class="n" x="892" y="890" width="46" height="24" rx="5" fill="#40e0d0"/><text x="915" y="902">JNK</text>
<line class="l" x1="945" y1="890" x2="945" y2="914" marker-end="url(#a)"/>
<text x="1035" y="901" style="font-size:17px">Caspase 8</text>
<line class="l" x1="1083" y1="912" x2="1083" y2="888" marker-end="url(#a)"/>

<polyline class="l" points="1490,954 1472,954 1472,855 1307,855 1307,654" marker-end="url(#a)"/>
<rect class="n" x="996" y="938" width="42" height="24" rx="12" fill="#a8d8f8"/><text x="1017" y="950">Sp1</text>
<line class="l" x1="1038" y1="951" x2="1185" y2="951" marker-end="url(#a)"/>
<circle cx="1105" cy="937" r="14" fill="#d4e04a" stroke="#888"/><text x="1105" y="937" class="xs">OGT</text>
<polyline class="l" points="1012,1007 1105,1007 1105,953" marker-end="url(#a)"/>
<rect class="n" x="1188" y="940" width="42" height="24" rx="12" fill="#a8d8f8"/><text x="1209" y="952">Sp1</text>
<circle class="G" cx="1228" cy="941" r="7"/><text x="1228" y="941" class="gt">G</text>
<line class="l" x1="1232" y1="952" x2="1288" y2="952" marker-end="url(#a)"/>
<rect class="n" x="1290" y="941" width="62" height="24" rx="5" fill="#8ca8f0"/><text x="1321" y="953" style="font-size:14px">SREBP1</text>
<line class="l" x1="1355" y1="963" x2="1355" y2="939" marker-end="url(#a)"/>
<line class="l" x1="1360" y1="952" x2="1452" y2="952" marker-end="url(#a)"/>
<rect class="n" x="1377" y="936" width="45" height="15" rx="5" fill="#a8d8f8"/><text x="1399" y="943" style="font-size:12px">ACC1</text>
<line class="l" x1="1427" y1="949" x2="1427" y2="931" marker-end="url(#a)"/>
<text x="1400" y="963" style="font-size:12px">Glutamine</text><text x="1400" y="976" style="font-size:12px">Synthesis</text>
<polyline class="l" points="1438,952 1438,1007 1278,1007" marker-end="url(#a)"/>
<rect class="n" x="1455" y="942" width="35" height="24" rx="12" fill="#f8d020"/><text x="1472" y="954">LD</text>
<line class="l" x1="1496" y1="965" x2="1496" y2="939" marker-end="url(#a)"/>
<rect class="db" x="846" y="996" width="166" height="24"/><text x="929" y="1008">Glutamine Deprivation</text>
<rect class="n" x="1190" y="996" width="80" height="24" rx="5" fill="#8ca8f0"/><text x="1230" y="1008">Glutamine</text>
<line class="l" x1="1276" y1="1018" x2="1276" y2="996" marker-end="url(#a)"/>
</svg>
</body></html>
